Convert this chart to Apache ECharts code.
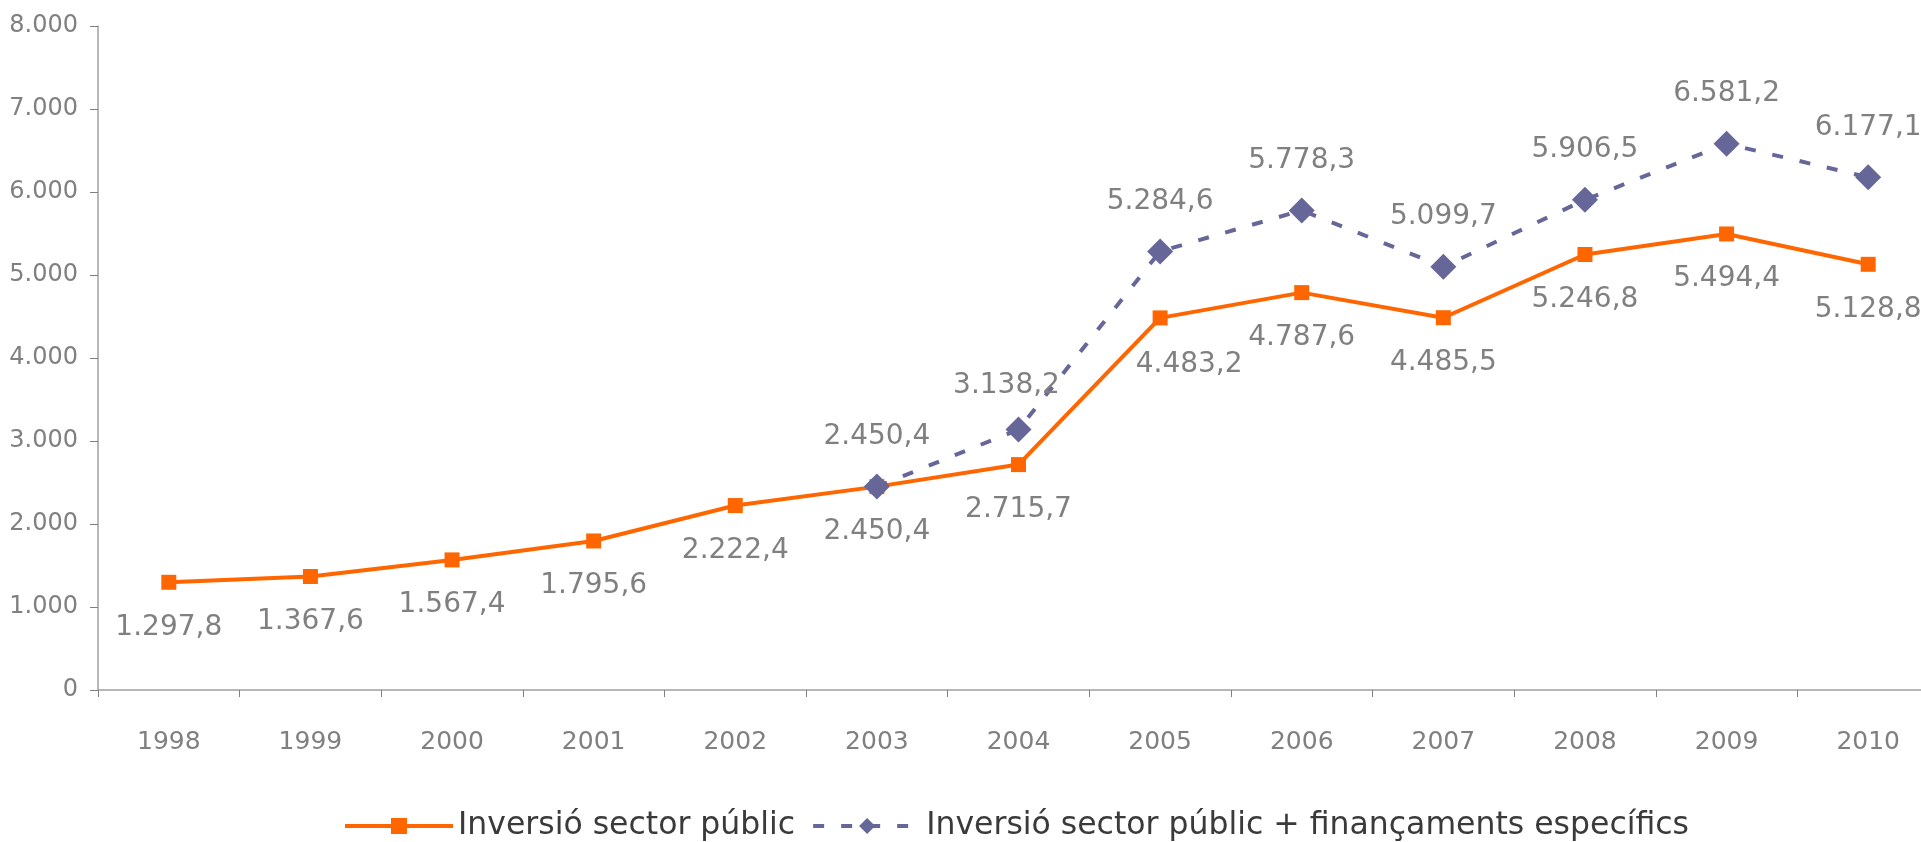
<!DOCTYPE html>
<html>
<head>
<meta charset="utf-8">
<script src="https://cdn.jsdelivr.net/npm/echarts@6/dist/echarts.min.js"></script>
<style>
html,body{margin:0;padding:0;background:#fff;}
#c{width:1921px;height:842px;}
</style>
</head>
<body>
<div id="c"></div>
<script>
const categories = ['1998','1999','2000','2001','2002','2003','2004','2005','2006','2007','2008','2009','2010'];
const publicInvestment = [1297.8, 1367.6, 1567.4, 1795.6, 2222.4, 2450.4, 2715.7, 4483.2, 4787.6, 4485.5, 5246.8, 5494.4, 5128.8];
const publicPlusSpecific = [null, null, null, null, null, 2450.4, 3138.2, 5284.6, 5778.3, 5099.7, 5906.5, 6581.2, 6177.1];
const seriesNames = ['Inversió sector públic', 'Inversió sector públic + finançaments específics'];

function thousands(intStr){
  return intStr.replace(/\B(?=(\d{3})+(?!\d))/g, '.');
}
function fmtValue(v){
  const parts = v.toFixed(1).split('.');
  return thousands(parts[0]) + ',' + parts[1];
}
const FONT = '"DejaVu Sans", sans-serif';

// label placement tweaks (style only)
const orangeLabelOffsets = {7: [29, 47]};
const blueLabelOffsets = {6: [-12, -44]};
const orangeData = publicInvestment.map((v, i) => orangeLabelOffsets[i]
  ? {value: v, label: {offset: orangeLabelOffsets[i]}} : v);
const blueData = publicPlusSpecific.map((v, i) => (v !== null && blueLabelOffsets[i])
  ? {value: v, label: {offset: blueLabelOffsets[i]}} : v);

const chart = echarts.init(document.getElementById('c'));
chart.setOption({
  animation: false,
  backgroundColor: '#ffffff',
  grid: {left: 98, top: 26, bottom: 152, right: -18, outerBoundsMode: 'none', containLabel: false},
  legend: {
    left: 338, top: 805,
    itemWidth: 108, itemHeight: 20, itemGap: 16,
    lineStyle: {width: 4},
    textStyle: {fontFamily: FONT, fontSize: 31.5, color: '#3a3a3a'},
    data: seriesNames
  },
  xAxis: {
    type: 'category',
    data: categories,
    boundaryGap: true,
    axisLine: {lineStyle: {color: '#a0a0a0', width: 1.5}},
    axisTick: {show: true, length: 7, lineStyle: {color: '#808080'}},
    axisLabel: {fontFamily: FONT, fontSize: 25, color: '#808080', margin: 40}
  },
  yAxis: {
    type: 'value',
    min: 0, max: 8000, interval: 1000,
    axisLine: {show: true, lineStyle: {color: '#a0a0a0', width: 1.5}},
    axisTick: {show: true, length: 8, lineStyle: {color: '#808080'}},
    splitLine: {show: false},
    axisLabel: {fontFamily: FONT, fontSize: 24, color: '#808080', margin: 20,
      formatter: v => thousands(String(v))}
  },
  series: [
    {
      name: seriesNames[0],
      type: 'line',
      data: orangeData,
      color: '#ff6600',
      lineStyle: {color: '#ff6600', width: 4},
      itemStyle: {color: '#ff6600'},
      symbol: 'rect',
      symbolSize: 15,
      label: {
        show: true, position: 'inside', offset: [0, 45],
        fontFamily: FONT, fontSize: 28, color: '#808080',
        formatter: p => fmtValue(p.value)
      },
      z: 2
    },
    {
      name: seriesNames[1],
      type: 'line',
      data: blueData,
      color: '#666699',
      lineStyle: {color: '#666699', width: 4, type: [11, 17]},
      itemStyle: {color: '#666699'},
      symbol: 'diamond',
      symbolSize: 26,
      label: {
        show: true, position: 'inside', offset: [0, -50],
        fontFamily: FONT, fontSize: 28, color: '#808080',
        formatter: p => fmtValue(p.value)
      },
      z: 3
    }
  ]
});
</script>
</body>
</html>
